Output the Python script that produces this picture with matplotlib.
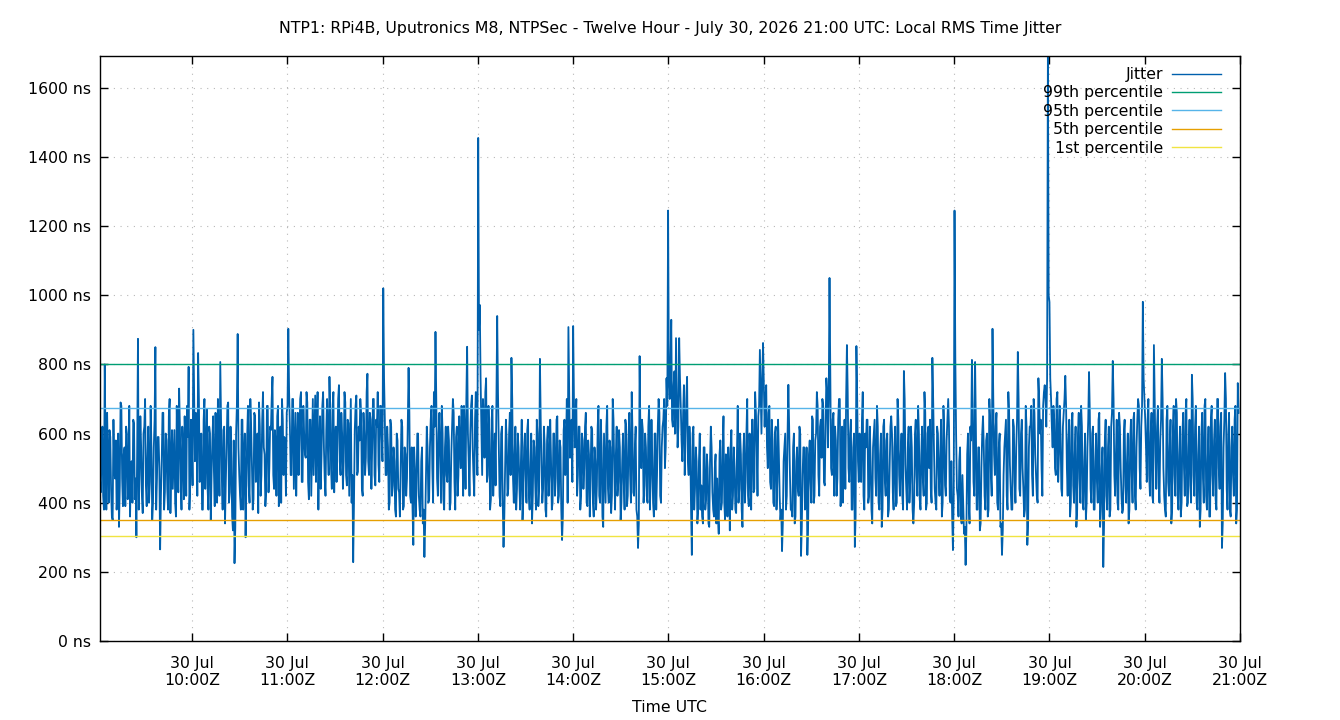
import numpy as np
import matplotlib
matplotlib.use("Agg")
import matplotlib.pyplot as plt
import matplotlib.dates as mdates
from matplotlib.ticker import FuncFormatter

# jitter in ns. Two samples per minute from 09:02 to 21:00 UTC:
# "a" rows hold the first sample of each minute, "b" rows the second; one row per hour
a09 = [470, 560, 420, 800, 380, 520, 610, 440, 350, 500,
       580, 430, 330, 690, 470, 540, 390, 600, 450, 360,
       520, 640, 410, 300, 874, 480, 560, 370, 620, 450,
       530, 400, 680, 350, 560, 850, 470, 590, 265, 520,
       660, 430, 580, 380, 700, 500, 440, 610, 360, 540,
       730, 470, 620, 410, 560, 680, 793, 450, 590, 900]
a10 = [520, 640, 833, 460, 600, 380, 700, 530, 440, 620,
       350, 580, 490, 660, 400, 540, 807, 470, 610, 340,
       560, 690, 430, 520, 320, 225, 600, 888, 480, 380,
       640, 530, 300, 590, 450, 700, 510, 410, 650, 560,
       370, 620, 480, 720, 540, 430, 680, 500, 610, 764,
       440, 570, 650, 390, 620, 700, 480, 560, 660, 903]
a11 = [620, 480, 700, 550, 420, 660, 580, 720, 460, 600,
       530, 690, 410, 640, 570, 480, 710, 600, 380, 650,
       540, 720, 470, 610, 560, 764, 500, 680, 430, 620,
       570, 740, 480, 600, 520, 690, 450, 630, 560, 400,
       228, 610, 710, 490, 580, 660, 420, 600, 530, 773,
       480, 640, 560, 700, 450, 620, 510, 680, 590, 1020]
a12 = [640, 480, 560, 400, 620, 450, 520, 360, 580, 430,
       500, 620, 390, 540, 470, 790, 420, 560, 278, 500,
       440, 600, 380, 520, 340, 243, 480, 560, 410, 640,
       500, 720, 894, 470, 600, 530, 680, 410, 560, 480,
       620, 380, 540, 700, 460, 590, 420, 650, 500, 560,
       680, 440, 851, 520, 600, 710, 480, 640, 560, 1455]
a13 = [972, 620, 700, 530, 760, 480, 600, 410, 680, 520,
       450, 940, 560, 390, 620, 272, 500, 580, 440, 660,
       819, 470, 540, 380, 600, 450, 520, 350, 560, 480,
       610, 420, 500, 340, 580, 460, 640, 390, 816, 510,
       440, 570, 360, 620, 480, 530, 400, 600, 470, 650,
       420, 560, 292, 610, 480, 700, 908, 530, 640, 911]
a14 = [560, 700, 480, 620, 420, 580, 500, 660, 390, 540,
       470, 610, 360, 520, 450, 680, 400, 560, 330, 500,
       620, 440, 580, 370, 700, 490, 540, 420, 610, 350,
       520, 460, 640, 390, 580, 480, 720, 430, 560, 380,
       269, 824, 500, 610, 450, 560, 400, 680, 470, 530,
       360, 600, 480, 700, 420, 560, 640, 500, 760, 1245]
a15 = [700, 929, 620, 780, 876, 560, 876, 680, 520, 740,
       600, 764, 480, 560, 249, 620, 440, 520, 380, 600,
       450, 340, 560, 410, 500, 330, 620, 430, 360, 540,
       470, 310, 580, 400, 650, 350, 480, 560, 320, 610,
       420, 500, 370, 680, 440, 540, 330, 600, 460, 700,
       390, 520, 640, 430, 720, 560, 650, 842, 600, 862]
a16 = [620, 740, 500, 680, 440, 580, 390, 620, 460, 540,
       350, 260, 520, 600, 420, 741, 480, 380, 560, 340,
       520, 440, 620, 246, 480, 560, 390, 249, 540, 460,
       650, 400, 580, 720, 480, 620, 530, 680, 450, 760,
       560, 1050, 500, 640, 420, 580, 470, 700, 390, 620,
       540, 440, 856, 500, 600, 380, 560, 272, 853, 520]
a17 = [600, 460, 720, 380, 560, 640, 420, 520, 340, 600,
       470, 680, 400, 540, 330, 620, 460, 580, 360, 500,
       650, 430, 560, 390, 700, 480, 540, 420, 781, 510,
       380, 620, 460, 560, 340, 600, 480, 680, 410, 540,
       470, 720, 380, 600, 500, 440, 819, 560, 400, 620,
       480, 540, 360, 680, 450, 580, 700, 410, 520, 263]
a18 = [1245, 600, 420, 520, 360, 480, 310, 220, 540, 400,
       620, 813, 460, 807, 380, 560, 320, 500, 650, 420,
       580, 360, 700, 480, 903, 540, 620, 400, 560, 330,
       249, 480, 600, 420, 720, 510, 380, 640, 460, 560,
       836, 440, 600, 500, 360, 680, 278, 560, 620, 480,
       700, 540, 420, 760, 600, 500, 680, 740, 620, 1690]
a19 = [980, 700, 560, 640, 480, 720, 540, 600, 420, 660,
       767, 500, 580, 360, 620, 450, 540, 330, 600, 470,
       680, 400, 520, 350, 560, 778, 440, 600, 380, 520,
       460, 640, 330, 500, 214, 580, 420, 560, 360, 620,
       810, 480, 540, 400, 660, 500, 370, 600, 450, 520,
       340, 580, 480, 640, 420, 560, 700, 500, 620, 981]
a20 = [700, 560, 640, 480, 600, 420, 856, 540, 620, 460,
       580, 816, 500, 380, 640, 460, 560, 340, 620, 480,
       700, 420, 540, 360, 600, 500, 660, 390, 560, 450,
       770, 480, 620, 400, 540, 330, 600, 470, 680, 420,
       520, 360, 640, 480, 580, 410, 700, 500, 620, 269,
       560, 775, 440, 600, 380, 560, 480, 640, 340, 746]

b09 = [430, 620, 380, 560, 660, 400, 590, 360, 640, 470,
       380, 600, 450, 680, 390, 560, 620, 410, 680, 500,
       400, 630, 470, 560, 380, 650, 420, 600, 700, 390,
       620, 460, 560, 400, 640, 380, 590, 500, 420, 660,
       380, 600, 440, 650, 370, 610, 520, 400, 680, 430,
       620, 380, 560, 650, 420, 590, 380, 640, 450, 700]
b10 = [660, 420, 700, 480, 380, 640, 440, 670, 380, 600,
       480, 650, 390, 560, 700, 420, 640, 380, 620, 460,
       680, 400, 620, 360, 580, 330, 680, 560, 420, 640,
       380, 600, 460, 680, 400, 620, 380, 660, 460, 600,
       690, 420, 640, 560, 390, 680, 430, 620, 700, 480,
       610, 420, 680, 560, 400, 640, 590, 420, 680, 720]
b11 = [480, 700, 440, 660, 560, 480, 700, 460, 680, 540,
       720, 460, 640, 420, 700, 600, 460, 720, 560, 440,
       680, 560, 420, 700, 480, 660, 440, 720, 580, 460,
       700, 520, 660, 440, 720, 480, 640, 420, 700, 480,
       400, 680, 480, 620, 700, 440, 660, 480, 720, 520,
       660, 440, 700, 480, 640, 720, 460, 680, 520, 760]
b12 = [480, 620, 380, 640, 420, 560, 380, 600, 440, 360,
       640, 380, 560, 420, 620, 660, 400, 380, 560, 360,
       600, 420, 360, 560, 380, 340, 620, 400, 560, 680,
       400, 620, 700, 420, 660, 400, 600, 380, 620, 460,
       580, 400, 620, 660, 380, 620, 480, 560, 680, 420,
       600, 700, 600, 420, 680, 560, 420, 720, 480, 900]
b13 = [760, 480, 640, 720, 460, 680, 380, 640, 420, 600,
       700, 720, 420, 600, 400, 360, 640, 420, 600, 480,
       700, 400, 620, 440, 560, 380, 640, 420, 600, 400,
       640, 380, 600, 420, 560, 380, 600, 440, 640, 400,
       620, 380, 580, 420, 640, 380, 600, 420, 640, 400,
       580, 380, 360, 640, 560, 400, 720, 620, 460, 700]
b14 = [640, 420, 620, 380, 600, 440, 620, 400, 580, 360,
       620, 400, 560, 380, 620, 420, 640, 360, 600, 400,
       680, 400, 560, 420, 640, 380, 620, 460, 560, 400,
       600, 380, 620, 420, 660, 400, 600, 420, 620, 360,
       340, 600, 640, 400, 600, 420, 620, 380, 640, 400,
       600, 380, 620, 660, 400, 620, 700, 560, 680, 760]
b15 = [800, 640, 740, 600, 720, 620, 760, 580, 660, 480,
       700, 520, 620, 380, 600, 380, 560, 340, 520, 380,
       360, 560, 380, 540, 340, 520, 560, 380, 500, 340,
       360, 540, 380, 560, 400, 540, 360, 500, 560, 380,
       560, 380, 540, 400, 600, 380, 540, 400, 600, 420,
       600, 380, 640, 440, 660, 420, 680, 720, 760, 740]
b16 = [700, 560, 660, 460, 640, 400, 600, 380, 640, 420,
       380, 340, 560, 380, 600, 620, 380, 360, 600, 360,
       560, 420, 600, 330, 560, 380, 560, 340, 580, 400,
       640, 420, 600, 680, 420, 640, 700, 460, 620, 720,
       700, 760, 480, 660, 620, 420, 640, 700, 460, 400,
       640, 700, 720, 460, 640, 380, 600, 360, 700, 460]
b17 = [480, 640, 420, 600, 640, 400, 620, 380, 560, 640,
       420, 620, 380, 600, 380, 640, 420, 600, 380, 620,
       600, 380, 620, 400, 640, 420, 600, 380, 700, 440,
       560, 400, 620, 380, 400, 640, 420, 600, 380, 620,
       420, 660, 400, 620, 640, 400, 700, 440, 380, 600,
       420, 640, 400, 600, 420, 640, 620, 400, 360, 420]
b18 = [820, 440, 360, 560, 340, 400, 330, 320, 600, 340,
       580, 680, 420, 620, 380, 560, 340, 600, 560, 380,
       600, 380, 640, 420, 700, 480, 660, 380, 600, 340,
       320, 560, 640, 380, 660, 440, 380, 620, 400, 640,
       700, 420, 640, 440, 380, 620, 340, 620, 680, 420,
       660, 480, 400, 700, 640, 420, 720, 700, 760, 1000]
b19 = [760, 620, 680, 500, 700, 460, 680, 440, 620, 700,
       680, 420, 640, 400, 660, 400, 620, 380, 660, 400,
       620, 380, 600, 400, 640, 660, 400, 620, 380, 600,
       400, 660, 380, 560, 340, 640, 380, 620, 380, 660,
       700, 420, 640, 380, 620, 420, 380, 640, 400, 600,
       380, 640, 400, 660, 380, 640, 680, 440, 680, 760]
b20 = [640, 460, 700, 420, 660, 400, 700, 440, 680, 400,
       640, 700, 420, 360, 680, 420, 640, 380, 680, 420,
       660, 380, 620, 400, 660, 420, 700, 400, 640, 400,
       700, 420, 680, 380, 620, 380, 660, 400, 700, 380,
       620, 360, 680, 420, 640, 380, 700, 440, 660, 340,
       640, 700, 380, 660, 360, 620, 420, 680, 380, 660]

first = a09 + a10 + a11 + a12 + a13 + a14 + a15 + a16 + a17 + a18 + a19 + a20
second = b09 + b10 + b11 + b12 + b13 + b14 + b15 + b16 + b17 + b18 + b19 + b20
jitter = [v for pair in zip(first, second) for v in pair]

pct_labels = ["99th percentile", "95th percentile", "5th percentile", "1st percentile"]
pct_values = [801, 674, 350, 304]
pct_colors = ["#009e73", "#56b4e9", "#e69f00", "#f0e442"]

start = np.datetime64("2026-07-30T09:02:00")
times = start + np.arange(len(jitter)) * np.timedelta64(29900, "ms")

plt.rcParams["font.family"] = "DejaVu Sans"
plt.rcParams["font.size"] = 11.3

fig = plt.figure(figsize=(13.4, 7.2), dpi=100)
ax = fig.add_axes([100 / 1340, 1 - 641 / 720, 1140 / 1340, 585 / 720])

ax.plot(times, jitter, color="#0060ad", lw=1.3, label="Jitter")
for lab, val, col in zip(pct_labels, pct_values, pct_colors):
    ax.axhline(val, color=col, lw=1.0, label=lab)

ax.set_xlim(np.datetime64("2026-07-30T09:02"), np.datetime64("2026-07-30T21:00"))
ax.set_ylim(0, 1692)
ax.set_yticks(range(0, 1601, 200))
ax.yaxis.set_major_formatter(FuncFormatter(lambda v, p: f"{v:.0f} ns"))
ax.xaxis.set_major_locator(mdates.HourLocator(byhour=range(10, 22)))
ax.xaxis.set_major_formatter(mdates.DateFormatter("%d %b\n%H:%MZ"))

ax.tick_params(direction="in", length=6, width=1, top=True, right=True, labelsize=11.3)
ax.tick_params(axis="y", pad=6.5)
ax.tick_params(axis="x", pad=10.5)
ax.grid(True, color="#b8b8b8", lw=0.8, linestyle=(0, (1, 5)))
for s in ax.spines.values():
    s.set_linewidth(1.0)

leg = ax.legend(loc="upper right", bbox_to_anchor=(1221 / 1340, 1 - 67 / 720),
                bbox_transform=fig.transFigure, frameon=False, markerfirst=False,
                borderpad=0, borderaxespad=0, handlelength=3.1, handletextpad=0.6,
                labelspacing=0.22, fontsize=11.3)
leg.get_lines()[0].set_linewidth(1.0)

fig.text(0.5, 1 - 29 / 720,
         "NTP1: RPi4B, Uputronics M8, NTPSec - Twelve Hour - July 30, 2026 21:00 UTC: Local RMS Time Jitter",
         ha="center", va="center", fontsize=11.3)
fig.text(670 / 1340, 1 - 707 / 720, "Time UTC", ha="center", va="center", fontsize=11.3)

fig.savefig("out.png", dpi=100)
